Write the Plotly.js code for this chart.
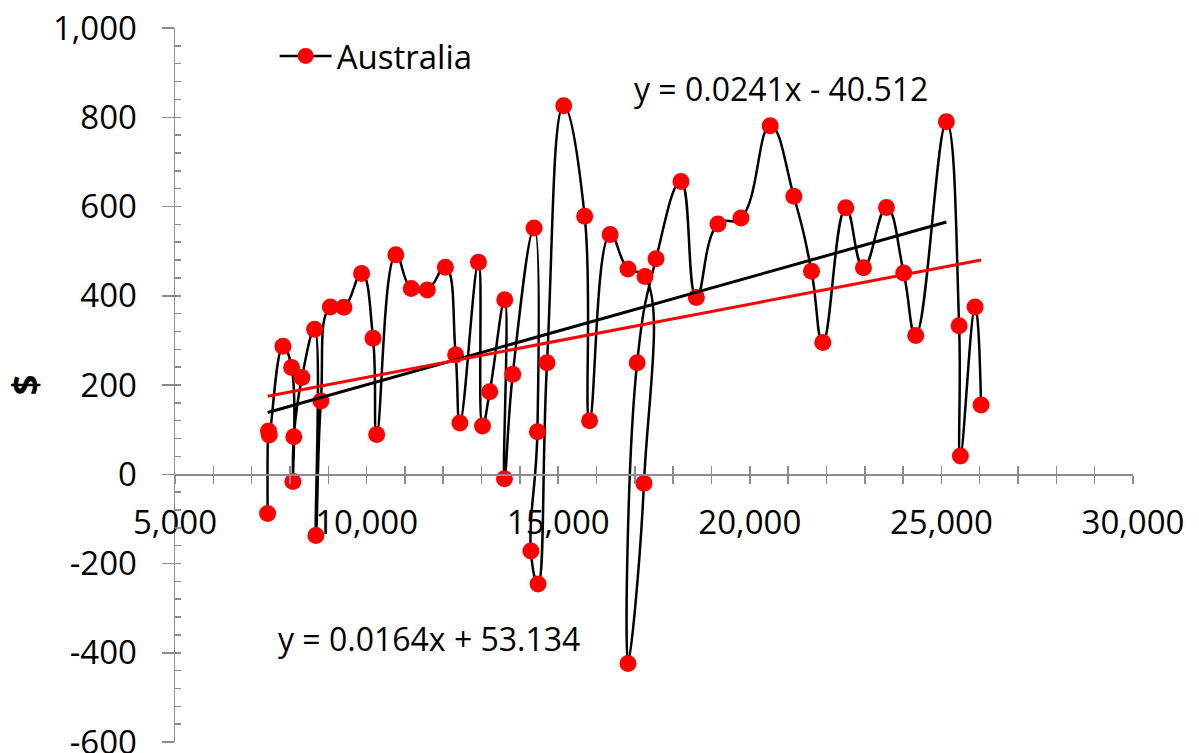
<!DOCTYPE html>
<html>
<head>
<meta charset="utf-8">
<script src="https://cdn.plot.ly/plotly-3.0.1.min.js"></script>
<style>html,body{margin:0;padding:0;background:#fff;}#chart{width:1199px;height:753px;}</style>
</head>
<body>
<div id="chart"></div>
<script>
// Series values in plotted (data) order
var seriesName = 'Australia';
var xValues = [7417, 7440, 7460, 7816, 8043, 8077, 8100, 8312, 8643, 8677, 8807, 9055, 9407, 9868, 10167, 10263, 10763, 11165, 11585, 12055, 12323, 12435, 12919, 13024, 13214, 13605, 13597, 13814, 14370, 14457, 14287, 14474, 14708, 15143, 15691, 15818, 16355, 16821, 17265, 17238, 16821, 17060, 17552, 18204, 18605, 19168, 19770, 20533, 21149, 21610, 21905, 22505, 22966, 23566, 24017, 24330, 25130, 25462, 25495, 25879, 26035];
var yValues = [-88, 97, 88, 287, 239, -16, 84, 217, 325, -137, 164, 375, 374, 450, 305, 89, 492, 416, 413, 464, 268, 115, 475, 108, 185, 391, -10, 224, 552, 95, -172, -246, 250, 826, 578, 120, 537, 460, 443, -20, -424, 250, 483, 656, 396, 561, 574, 781, 623, 455, 295, 597, 463, 598, 451, 311, 790, 333, 41, 375, 155];

// Trendlines (from the equations shown on the chart)
var trendSlopes = [0.0241, 0.0164];
var trendIntercepts = [-40.512, 53.134];
var trendColors = ['#000000', '#ff0000'];
var trendLabels = ['y = 0.0241x - 40.512', 'y = 0.0164x + 53.134'];
var trendLastIndex = [56, 60]; // last data point index covered by each trendline

// Axis ticks
var xTickVals = [5000, 10000, 15000, 20000, 25000, 30000];
var xTickText = ['5,000', '10,000', '15,000', '20,000', '25,000', '30,000'];
var yTickVals = [-600, -400, -200, 0, 200, 400, 600, 800, 1000];
var yTickText = ['-600', '-400', '-200', '0', '200', '400', '600', '800', '1,000'];

var FONT = 'Open Sans, Noto Sans, sans-serif';
var AX = '#8c8c8c';

var minX = Math.min.apply(null, xValues);
var traces = [{
  x: xValues, y: yValues, name: seriesName, type: 'scatter', mode: 'lines+markers',
  line: {color: '#000000', width: 2.5, shape: 'spline', smoothing: 1.3},
  marker: {color: '#ff0000', size: 17},
  hoverinfo: 'x+y'
}];
for (var i = 0; i < trendSlopes.length; i++) {
  var x1 = minX, x2 = xValues[trendLastIndex[i]];
  if (i === 1) { x2 = Math.max.apply(null, xValues); }
  traces.push({
    x: [x1, x2], y: [trendSlopes[i] * x1 + trendIntercepts[i], trendSlopes[i] * x2 + trendIntercepts[i]],
    type: 'scatter', mode: 'lines', showlegend: false, hoverinfo: 'skip',
    line: {color: trendColors[i], width: 3}
  });
}
traces.push({x: [null], y: [null], xaxis: 'x2', yaxis: 'y2', showlegend: false, hoverinfo: 'skip', mode: 'markers'});

var layout = {
  width: 1199, height: 753,
  margin: {l: 175, r: 66, t: 28, b: 11},
  paper_bgcolor: '#ffffff', plot_bgcolor: '#ffffff',
  font: {family: FONT, size: 33, color: '#000000'},
  showlegend: true,
  legend: {x: 0.104, y: 1.0, xanchor: 'left', yanchor: 'top', bgcolor: 'rgba(0,0,0,0)',
           font: {family: FONT, size: 33, color: '#000'}, itemwidth: 52},
  xaxis: {
    range: [5000, 30000], anchor: 'free', position: 0.375,
    showline: true, linecolor: AX, linewidth: 1.5, showgrid: false, zeroline: false,
    ticks: 'outside', ticklen: 8, tickwidth: 1.5, tickcolor: AX,
    tickmode: 'array', tickvals: xTickVals, ticktext: xTickText, ticklabelstandoff: 11,
    ticklabeloverflow: 'allow',
    minor: {dtick: 1000, tick0: 0, ticks: 'outside', ticklen: 8, tickwidth: 1.5, tickcolor: AX, showgrid: false},
    tickfont: {family: FONT, size: 33, color: '#000'}
  },
  xaxis2: {
    range: [5000, 30000], overlaying: 'x', anchor: 'free', position: 0.375,
    showline: false, showgrid: false, zeroline: false, showticklabels: false,
    ticks: 'inside', ticklen: 8, tickwidth: 1.5, tickcolor: AX,
    tickmode: 'array', tickvals: xTickVals,
    minor: {dtick: 1000, tick0: 0, ticks: 'inside', ticklen: 8, tickwidth: 1.5, tickcolor: AX, showgrid: false}
  },
  yaxis: {
    range: [-600, 1000], anchor: 'x', side: 'left',
    showline: true, linecolor: AX, linewidth: 1.5, showgrid: false, zeroline: false,
    ticks: 'outside', ticklen: 12, tickwidth: 1.5, tickcolor: AX,
    tickmode: 'array', tickvals: yTickVals, ticktext: yTickText, ticklabelstandoff: 18,
    ticklabeloverflow: 'allow',
    tickfont: {family: FONT, size: 33, color: '#000'},
    title: {text: '$', font: {family: FONT, size: 36, color: '#000', weight: 'bold'}, standoff: 4}
  },
  yaxis2: {
    range: [-600, 1000], overlaying: 'y', anchor: 'x', side: 'left',
    showline: false, showgrid: false, zeroline: false, showticklabels: false,
    ticks: 'inside', ticklen: 6, tickwidth: 1.5, tickcolor: AX,
    tickmode: 'linear', tick0: 0, dtick: 40
  },
  annotations: [
    {x: 20802, y: 865, xref: 'x', yref: 'y', text: trendLabels[0], showarrow: false, font: {family: FONT, size: 32, color: '#000'}},
    {x: 11623, y: -367, xref: 'x', yref: 'y', text: trendLabels[1], showarrow: false, font: {family: FONT, size: 32, color: '#000'}}
  ]
};

Plotly.newPlot('chart', traces, layout, {staticPlot: true, displayModeBar: false});
</script>
</body>
</html>
